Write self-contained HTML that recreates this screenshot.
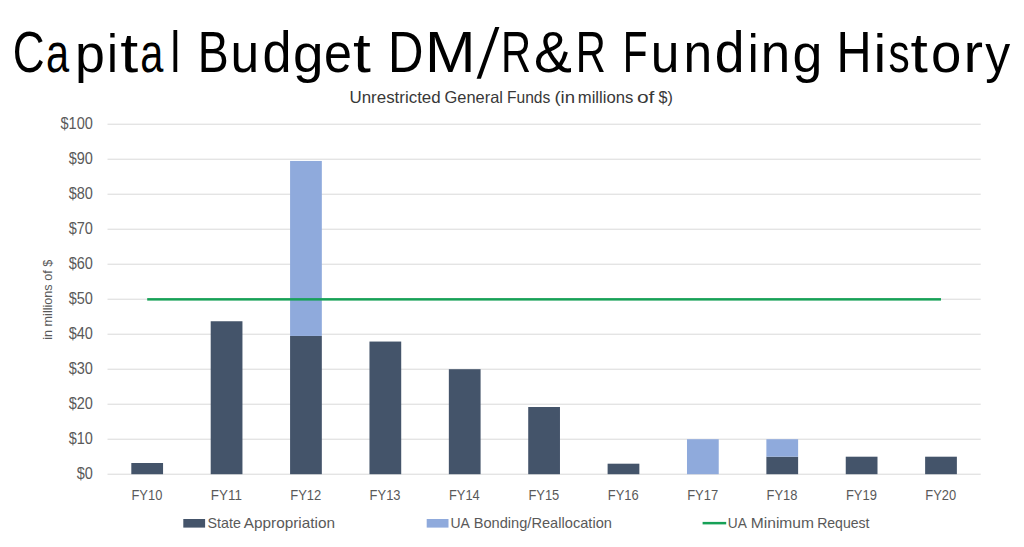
<!DOCTYPE html>
<html><head><meta charset="utf-8"><style>
html,body{margin:0;padding:0;background:#fff;}
body{width:1024px;height:547px;overflow:hidden;position:relative;}
svg{position:absolute;left:0;top:0;font-family:"Liberation Sans",sans-serif;}
</style></head><body>
<svg width="1024" height="547" viewBox="0 0 1024 547">
<g><text x="12.70" y="71.80" font-size="57.6" fill="#000" textLength="31.84" lengthAdjust="spacingAndGlyphs">C</text><text x="46.03" y="71.80" font-size="54.8" fill="#000" textLength="23.11" lengthAdjust="spacingAndGlyphs">a</text><text x="75.00" y="71.80" font-size="53.5" fill="#000" textLength="29.91" lengthAdjust="spacingAndGlyphs">p</text><text x="107.08" y="71.80" font-size="54.5" fill="#000" textLength="10.92" lengthAdjust="spacingAndGlyphs">i</text><text x="120.33" y="71.80" font-size="56" fill="#000" textLength="17.98" lengthAdjust="spacingAndGlyphs">t</text><text x="140.33" y="71.80" font-size="54.8" fill="#000" textLength="23.11" lengthAdjust="spacingAndGlyphs">a</text><text x="170.47" y="71.80" font-size="57.5" fill="#000" textLength="9.65" lengthAdjust="spacingAndGlyphs">l</text><text x="197.67" y="71.80" font-size="57.6" fill="#000" textLength="30.94" lengthAdjust="spacingAndGlyphs">B</text><text x="230.55" y="71.80" font-size="54.8" fill="#000" textLength="28.66" lengthAdjust="spacingAndGlyphs">u</text><text x="262.38" y="71.80" font-size="56.5" fill="#000" textLength="29.04" lengthAdjust="spacingAndGlyphs">d</text><text x="293.07" y="71.80" font-size="54.5" fill="#000" textLength="30.53" lengthAdjust="spacingAndGlyphs">g</text><text x="323.97" y="71.80" font-size="54.8" fill="#000" textLength="27.93" lengthAdjust="spacingAndGlyphs">e</text><text x="353.14" y="71.80" font-size="56" fill="#000" textLength="17.87" lengthAdjust="spacingAndGlyphs">t</text><text x="388.05" y="71.80" font-size="57.6" fill="#000" textLength="35.47" lengthAdjust="spacingAndGlyphs">D</text><text x="424.99" y="71.80" font-size="57.6" fill="#000" textLength="50.54" lengthAdjust="spacingAndGlyphs">M</text><polygon points="476.6,78.8 480.9,78.8 499.4,26.9 495.2,26.9" fill="#000" stroke="none"/><text x="501.06" y="71.80" font-size="57.6" fill="#000" textLength="30.11" lengthAdjust="spacingAndGlyphs">R</text><text x="534.01" y="71.80" font-size="57.5" fill="#000" textLength="37.91" lengthAdjust="spacingAndGlyphs">&amp;</text><text x="575.86" y="71.80" font-size="57.6" fill="#000" textLength="30.11" lengthAdjust="spacingAndGlyphs">R</text><text x="622.65" y="71.80" font-size="57.6" fill="#000" textLength="24.81" lengthAdjust="spacingAndGlyphs">F</text><text x="650.65" y="71.80" font-size="54.8" fill="#000" textLength="28.66" lengthAdjust="spacingAndGlyphs">u</text><text x="683.42" y="71.80" font-size="54.8" fill="#000" textLength="28.66" lengthAdjust="spacingAndGlyphs">n</text><text x="714.82" y="71.80" font-size="56.5" fill="#000" textLength="29.79" lengthAdjust="spacingAndGlyphs">d</text><text x="747.78" y="71.80" font-size="54.5" fill="#000" textLength="10.92" lengthAdjust="spacingAndGlyphs">i</text><text x="760.63" y="71.80" font-size="54.8" fill="#000" textLength="29.44" lengthAdjust="spacingAndGlyphs">n</text><text x="792.61" y="71.80" font-size="54.5" fill="#000" textLength="29.91" lengthAdjust="spacingAndGlyphs">g</text><text x="836.59" y="71.80" font-size="57.6" fill="#000" textLength="35.11" lengthAdjust="spacingAndGlyphs">H</text><text x="873.64" y="71.80" font-size="54.5" fill="#000" textLength="12.70" lengthAdjust="spacingAndGlyphs">i</text><text x="888.43" y="71.80" font-size="54.8" fill="#000" textLength="21.26" lengthAdjust="spacingAndGlyphs">s</text><text x="910.56" y="71.80" font-size="56" fill="#000" textLength="17.32" lengthAdjust="spacingAndGlyphs">t</text><text x="930.98" y="71.80" font-size="54.8" fill="#000" textLength="30.37" lengthAdjust="spacingAndGlyphs">o</text><text x="963.49" y="71.80" font-size="54.8" fill="#000" textLength="19.52" lengthAdjust="spacingAndGlyphs">r</text><text x="985.28" y="71.80" font-size="53.5" fill="#000" textLength="24.95" lengthAdjust="spacingAndGlyphs">y</text></g>
<text x="349.49" y="102.60" font-size="16.5" fill="#383838" textLength="91.18" lengthAdjust="spacingAndGlyphs">Unrestricted</text>
<text x="444.58" y="102.60" font-size="16.5" fill="#383838" textLength="58.43" lengthAdjust="spacingAndGlyphs">General</text>
<text x="507.01" y="102.60" font-size="16.5" fill="#383838" textLength="43.32" lengthAdjust="spacingAndGlyphs">Funds</text>
<text x="554.44" y="102.60" font-size="16.5" fill="#383838" textLength="20.65" lengthAdjust="spacingAndGlyphs">(in</text>
<text x="577.77" y="102.60" font-size="16.5" fill="#383838" textLength="55.59" lengthAdjust="spacingAndGlyphs">millions</text>
<text x="636.91" y="102.60" font-size="16.5" fill="#383838" textLength="17.47" lengthAdjust="spacingAndGlyphs">of</text>
<text x="658.44" y="102.60" font-size="16.5" fill="#383838" textLength="14.36" lengthAdjust="spacingAndGlyphs">$)</text>
<rect x="107.50" y="473.70" width="873.20" height="1" fill="#D9D9D9"/>
<rect x="107.50" y="438.70" width="873.20" height="1" fill="#D9D9D9"/>
<rect x="107.50" y="403.70" width="873.20" height="1" fill="#D9D9D9"/>
<rect x="107.50" y="368.70" width="873.20" height="1" fill="#D9D9D9"/>
<rect x="107.50" y="333.70" width="873.20" height="1" fill="#D9D9D9"/>
<rect x="107.50" y="298.70" width="873.20" height="1" fill="#D9D9D9"/>
<rect x="107.50" y="263.70" width="873.20" height="1" fill="#D9D9D9"/>
<rect x="107.50" y="228.70" width="873.20" height="1" fill="#D9D9D9"/>
<rect x="107.50" y="193.70" width="873.20" height="1" fill="#D9D9D9"/>
<rect x="107.50" y="158.70" width="873.20" height="1" fill="#D9D9D9"/>
<rect x="107.50" y="123.70" width="873.20" height="1" fill="#D9D9D9"/>
<rect x="131.31" y="463.00" width="31.75" height="11.20" fill="#44546A"/>
<rect x="210.70" y="321.25" width="31.75" height="152.95" fill="#44546A"/>
<rect x="290.08" y="335.95" width="31.75" height="138.25" fill="#44546A"/>
<rect x="290.08" y="160.95" width="31.75" height="175.00" fill="#8FAADC"/>
<rect x="369.46" y="341.55" width="31.75" height="132.65" fill="#44546A"/>
<rect x="448.84" y="369.20" width="31.75" height="105.00" fill="#44546A"/>
<rect x="528.22" y="407.00" width="31.75" height="67.20" fill="#44546A"/>
<rect x="607.61" y="463.70" width="31.75" height="10.50" fill="#44546A"/>
<rect x="686.99" y="439.20" width="31.75" height="35.00" fill="#8FAADC"/>
<rect x="766.37" y="456.70" width="31.75" height="17.50" fill="#44546A"/>
<rect x="766.37" y="439.20" width="31.75" height="17.50" fill="#8FAADC"/>
<rect x="845.75" y="456.70" width="31.75" height="17.50" fill="#44546A"/>
<rect x="925.13" y="456.70" width="31.75" height="17.50" fill="#44546A"/>
<rect x="147.19" y="298.10" width="793.82" height="2.5" fill="#17A157"/>
<text x="76.76" y="478.80" font-size="15.6" fill="#595959" textLength="16.12" lengthAdjust="spacingAndGlyphs">$0</text>
<text x="68.65" y="443.80" font-size="15.6" fill="#595959" textLength="24.20" lengthAdjust="spacingAndGlyphs">$10</text>
<text x="68.65" y="408.80" font-size="15.6" fill="#595959" textLength="24.20" lengthAdjust="spacingAndGlyphs">$20</text>
<text x="68.65" y="373.80" font-size="15.6" fill="#595959" textLength="24.20" lengthAdjust="spacingAndGlyphs">$30</text>
<text x="68.65" y="338.80" font-size="15.6" fill="#595959" textLength="24.20" lengthAdjust="spacingAndGlyphs">$40</text>
<text x="68.65" y="303.80" font-size="15.6" fill="#595959" textLength="24.20" lengthAdjust="spacingAndGlyphs">$50</text>
<text x="68.65" y="268.80" font-size="15.6" fill="#595959" textLength="24.20" lengthAdjust="spacingAndGlyphs">$60</text>
<text x="68.65" y="233.80" font-size="15.6" fill="#595959" textLength="24.20" lengthAdjust="spacingAndGlyphs">$70</text>
<text x="68.65" y="198.80" font-size="15.6" fill="#595959" textLength="24.20" lengthAdjust="spacingAndGlyphs">$80</text>
<text x="68.65" y="163.80" font-size="15.6" fill="#595959" textLength="24.20" lengthAdjust="spacingAndGlyphs">$90</text>
<text x="60.55" y="128.80" font-size="15.6" fill="#595959" textLength="32.32" lengthAdjust="spacingAndGlyphs">$100</text>
<text x="131.48" y="500.20" font-size="15" fill="#595959" textLength="30.85" lengthAdjust="spacingAndGlyphs">FY10</text>
<text x="210.82" y="500.20" font-size="15" fill="#595959" textLength="31.06" lengthAdjust="spacingAndGlyphs">FY11</text>
<text x="290.23" y="500.20" font-size="15" fill="#595959" textLength="31.02" lengthAdjust="spacingAndGlyphs">FY12</text>
<text x="369.62" y="500.20" font-size="15" fill="#595959" textLength="30.92" lengthAdjust="spacingAndGlyphs">FY13</text>
<text x="449.01" y="500.20" font-size="15" fill="#595959" textLength="30.72" lengthAdjust="spacingAndGlyphs">FY14</text>
<text x="528.38" y="500.20" font-size="15" fill="#595959" textLength="30.89" lengthAdjust="spacingAndGlyphs">FY15</text>
<text x="607.76" y="500.20" font-size="15" fill="#595959" textLength="30.92" lengthAdjust="spacingAndGlyphs">FY16</text>
<text x="687.14" y="500.20" font-size="15" fill="#595959" textLength="31.02" lengthAdjust="spacingAndGlyphs">FY17</text>
<text x="766.53" y="500.20" font-size="15" fill="#595959" textLength="30.92" lengthAdjust="spacingAndGlyphs">FY18</text>
<text x="845.91" y="500.20" font-size="15" fill="#595959" textLength="30.95" lengthAdjust="spacingAndGlyphs">FY19</text>
<text x="925.29" y="500.20" font-size="15" fill="#595959" textLength="30.85" lengthAdjust="spacingAndGlyphs">FY20</text>
<rect x="183.3" y="519" width="21.8" height="8.6" fill="#44546A"/>
<text x="207.56" y="527.50" font-size="15" fill="#595959" textLength="33.35" lengthAdjust="spacingAndGlyphs">State</text>
<text x="243.76" y="527.50" font-size="15" fill="#595959" textLength="91.21" lengthAdjust="spacingAndGlyphs">Appropriation</text>
<rect x="426.7" y="519" width="21.8" height="8.6" fill="#8FAADC"/>
<text x="450.52" y="527.50" font-size="15" fill="#595959" textLength="19.41" lengthAdjust="spacingAndGlyphs">UA</text>
<text x="473.69" y="527.50" font-size="15" fill="#595959" textLength="138.24" lengthAdjust="spacingAndGlyphs">Bonding/Reallocation</text>
<rect x="702.6" y="521.9" width="23.6" height="2.5" fill="#17A157"/>
<text x="727.74" y="527.50" font-size="15" fill="#595959" textLength="19.09" lengthAdjust="spacingAndGlyphs">UA</text>
<text x="750.81" y="527.50" font-size="15" fill="#595959" textLength="63.21" lengthAdjust="spacingAndGlyphs">Minimum</text>
<text x="817.14" y="527.50" font-size="15" fill="#595959" textLength="52.36" lengthAdjust="spacingAndGlyphs">Request</text>
<g transform="translate(52.2,338.9) rotate(-90)"><text x="-0.85" y="0.00" font-size="12" fill="#595959" textLength="79.96" lengthAdjust="spacingAndGlyphs">in millions of $</text></g>
</svg>
</body></html>
